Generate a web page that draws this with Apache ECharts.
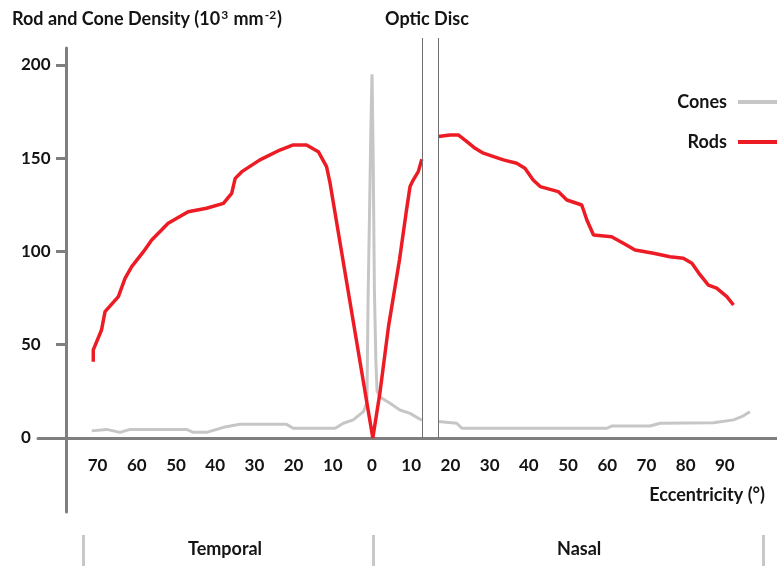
<!DOCTYPE html>
<html>
<head>
<meta charset="utf-8" />
<title>Rod and Cone Density</title>
<script src="https://cdn.jsdelivr.net/npm/echarts@6/dist/echarts.min.js"></script>
<style>
  body { margin: 0; background: #fff; }
</style>
</head>
<body>
<div id="main" style="width: 777px;height: 566px;"></div>
<script type="text/javascript">
// eccentricity in degrees: temporal side negative, nasal side positive
const rodEcc = [-71.1, -71.1, -69, -68.1, -64.7, -63, -61.3, -58.3, -56.2, -52, -46.9, -42.2, -37.9, -35.8, -34.9, -33.2,
  -28.6, -23.5, -20.1, -16.7, -13.7, -11.6, -10.7, 0.2, 2.0, 4.2, 7, 8.8, 9.7, 10.5, 11.8, 12.7,
  14.8,
  16.9, 19.9, 22, 24.2, 26.3, 28.4, 33.5, 36.9, 39, 41.1, 42.9, 47.5, 49.7, 53.5, 54.8, 56.5, 61.1, 64.1,
  67.1, 71.8, 76, 79.4, 81.6, 83.7, 85.8, 87.9, 90.5, 92.2];
const rodDensity = [40.9, 47.2, 57.9, 67.7, 75.8, 85.6, 91.9, 99.9, 106.2, 115.1, 121.3, 123.2, 125.8, 131.2, 139.2, 142.8,
  149.1, 154.4, 157.1, 157.1, 153.5, 145.5, 136.6, 0, 24, 59.7, 95.4, 122.3, 134.8, 138.3, 142.8, 149.5,
  null,
  161.6, 162.5, 162.5, 158.9, 155.3, 152.7, 149.1, 147.3, 144.6, 138.3, 134.8, 132.1, 127.6, 124.9, 116.9, 108.8, 107.9, 104.4,
  100.8, 99, 97.2, 96.4, 93.7, 87.4, 82, 80.3, 75.8, 71.3];

const coneEcc = [-71.5, -67.7, -64.3, -61.7, -47.3, -45.6, -42.2, -37.9, -33.7, -21.8, -20.1, -9.4, -7.3, -4.8, -2.2,
  -1.3, -1.0, -0.6, -0.3, 0, 0.3, 0.6, 1.0, 1.3, 2, 4.6, 7.1, 9.7, 12.7,
  14.8,
  16.9, 21.6, 22.9, 59.9, 61.1, 70.9, 73.5, 87.1, 92.2, 94.3, 96.4];
const coneDensity = [3.8, 4.6, 3.0, 4.6, 4.6, 3.0, 3.0, 5.7, 7.3, 7.3, 5.2, 5.2, 7.9, 9.7, 14.1,
  19, 75, 125, 165, 195, 150, 80, 40, 25, 22, 18.6, 15, 13.2, 9.5,
  null,
  8.8, 7.9, 5.2, 5.2, 6.4, 6.4, 7.9, 8.2, 9.7, 11.4, 14.1];

const xTicks = [-70, -60, -50, -40, -30, -20, -10, 0, 10, 20, 30, 40, 50, 60, 70, 80, 90];
const yTicks = [0, 50, 100, 150, 200];
const opticDisc = [12.7, 16.9];

const FONT = 'Lato';
const TXT = '#141414';

const pairs = (xs, ys) => xs.map((x, i) => [x, ys[i] === null ? '-' : ys[i]]);

const myChart = echarts.init(document.getElementById('main'));

const option = {
  animation: false,
  textStyle: { fontFamily: FONT },
  grid: { left: 38, right: 0, top: 48, bottom: 54 },
  xAxis: {
    type: 'value',
    min: -85.2,
    max: 103.3,
    splitLine: { show: false },
    axisLine: { onZero: true, lineStyle: { color: '#7f7f7f', width: 3 } },
    axisTick: { show: false },
    axisLabel: {
      customValues: xTicks,
      formatter: (v) => String(Math.abs(v)),
      margin: -55,
      color: TXT,
      fontWeight: 'bold',
      fontSize: 17,
      fontFamily: FONT
    }
  },
  yAxis: {
    type: 'value',
    min: -39.7,
    max: 209.1,
    offset: -28,
    splitLine: { show: false },
    axisLine: { onZero: false, lineStyle: { color: '#7f7f7f', width: 3 } },
    axisTick: { customValues: yTicks, length: 10, lineStyle: { color: '#7f7f7f', width: 3 } },
    axisLabel: {
      customValues: yTicks,
      align: 'left',
      margin: 45,
      color: TXT,
      fontWeight: 'bold',
      fontSize: 17,
      fontFamily: FONT
    }
  },
  legend: {
    orient: 'vertical',
    right: 0,
    top: 93,
    padding: 0,
    align: 'right',
    icon: 'rect',
    itemWidth: 39,
    itemHeight: 4,
    itemGap: 22,
    data: ['Cones', 'Rods'],
    textStyle: { color: TXT, fontWeight: 'bold', fontSize: 18, fontFamily: FONT, padding: [0, 6, 0, 0] }
  },
  series: [
    {
      name: 'Cones',
      type: 'line',
      data: pairs(coneEcc, coneDensity),
      symbol: 'none',
      connectNulls: false,
      lineStyle: { color: '#c6c6c6', width: 3 },
      itemStyle: { color: '#c6c6c6' },
      z: 2
    },
    {
      name: 'Rods',
      type: 'line',
      data: pairs(rodEcc, rodDensity),
      symbol: 'none',
      connectNulls: false,
      lineStyle: { color: '#ed1c24', width: 3.5 },
      itemStyle: { color: '#ed1c24' },
      z: 3
    }
  ],
  graphic: [
    {
      type: 'text', left: 12, top: 9,
      style: {
        text: 'Rod and Cone Density (10{sup|3} mm{sup|-2})',
        fill: TXT, font: 'bold 18px ' + FONT,
        rich: { sup: { fontSize: 12, fontWeight: 'bold', fontFamily: FONT, fill: TXT, verticalAlign: 'top', padding: [0, 1, 8, 1] } }
      }
    },
    { type: 'text', left: 385, top: 10, style: { text: 'Optic Disc', fill: TXT, font: 'bold 18px ' + FONT } },
    { type: 'text', right: 12, top: 486, style: { text: 'Eccentricity (°)', fill: TXT, font: 'bold 18px ' + FONT } },
    { type: 'text', left: 188, top: 540, style: { text: 'Temporal', fill: TXT, font: 'bold 18px ' + FONT } },
    { type: 'text', left: 557, top: 540, style: { text: 'Nasal', fill: TXT, font: 'bold 18px ' + FONT } },
    { type: 'rect', left: 82, top: 535, shape: { width: 3, height: 31 }, style: { fill: '#c8c8c8' } },
    { type: 'rect', left: 372, top: 535, shape: { width: 3, height: 31 }, style: { fill: '#c8c8c8' } },
    { type: 'rect', left: 762, top: 535, shape: { width: 3, height: 31 }, style: { fill: '#c8c8c8' } }
  ]
};
myChart.setOption(option);

// optic disc boundaries, placed through the axis scale
const discLines = opticDisc.map((x) => {
  const p0 = myChart.convertToPixel({ gridIndex: 0 }, [x, 0]);
  return {
    type: 'line',
    z: 10,
    shape: { x1: Math.round(p0[0]) + 0.5, y1: p0[1], x2: Math.round(p0[0]) + 0.5, y2: 38 },
    style: { stroke: '#6e6e6e', lineWidth: 1 }
  };
});
myChart.setOption({ graphic: option.graphic.concat(discLines) });
</script>
</body>
</html>
